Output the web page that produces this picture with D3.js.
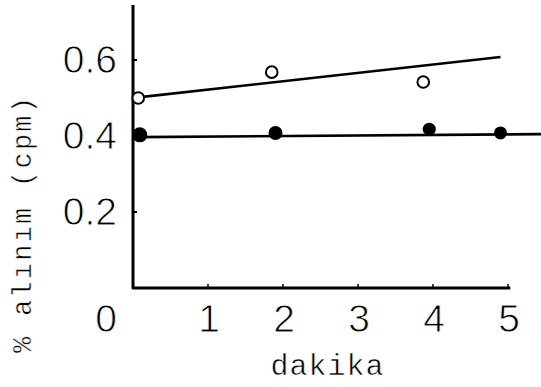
<!DOCTYPE html>
<html>
<head>
<meta charset="utf-8">
<script src="https://cdn.jsdelivr.net/npm/d3@7"></script>
<style>
  body { margin: 0; background: #fff; }
  svg { display: block; }
  .num { font-family: "Liberation Sans", Arial, sans-serif; font-size: 39px; fill: #000; stroke: #fff; stroke-width: 0.9px; }
  .lab { font-family: "Liberation Mono", "Courier New", monospace; fill: #000; stroke: #fff; stroke-width: 0.5px; }
</style>
</head>
<body>
<svg id="chart" width="541" height="387"></svg>
<script>
// measured values (minutes vs fraction of uptake)
var openX = [0.07, 1.85, 3.87];
var openY = [0.50, 0.568, 0.542];
var filledX = [0.09, 1.9, 3.95, 4.9];
var filledY = [0.403, 0.408, 0.418, 0.408];
var filledR = [7.5, 7, 6.5, 6.5];
// fitted lines, end points
var fitOpen = [[0.13, 0.503], [4.9, 0.608]];
var fitFilled = [[0.05, 0.397], [5.45, 0.405]];
var xTicks = [1, 2, 3, 4, 5];
var yTicks = [0.2, 0.4, 0.6];

function drawChart() {
  var svg = d3.select("#chart");

  var x = d3.scaleLinear().domain([0, 5]).range([133, 508]);
  var y = d3.scaleLinear().domain([0, 0.6]).range([288, 60]);

  // axes frame
  svg.append("path")
      .attr("d", "M" + x(0) + "," + y(0.745) + "V" + y(0) + "H" + x(5.03))
      .style("fill", "none")
      .style("stroke", "#000")
      .style("stroke-width", "3px")
      .style("stroke-linejoin", "round");

  // small ticks
  svg.selectAll(".yt").data(yTicks).enter().append("line")
      .attr("x1", x(0)).attr("x2", x(0) + 4)
      .attr("y1", function(d) { return y(d); })
      .attr("y2", function(d) { return y(d); })
      .style("stroke", "#000").style("stroke-width", "2px");
  svg.selectAll(".xt").data(xTicks).enter().append("line")
      .attr("x1", function(d) { return x(d); })
      .attr("x2", function(d) { return x(d); })
      .attr("y1", y(0)).attr("y2", y(0) - 4)
      .style("stroke", "#000").style("stroke-width", "1.5px");

  // tick labels
  svg.selectAll(".ylab").data(yTicks).enter().append("text")
      .attr("class", "num")
      .attr("x", x(0) - 16)
      .attr("y", function(d) { return y(d) + 13; })
      .attr("text-anchor", "end")
      .text(function(d) { return d3.format(".1f")(d); });
  svg.selectAll(".xlab").data(xTicks).enter().append("text")
      .attr("class", "num")
      .attr("x", function(d) { return x(d) + 1; })
      .attr("y", y(0) + 44)
      .attr("text-anchor", "middle")
      .text(function(d) { return d; });
  svg.append("text")
      .attr("class", "num")
      .attr("x", x(0) - 27)
      .attr("y", y(0) + 44)
      .attr("text-anchor", "middle")
      .text("0");

  // axis titles
  svg.append("text")
      .attr("class", "lab")
      .attr("x", 327).attr("y", 375)
      .attr("text-anchor", "middle")
      .style("font-size", "30px")
      .attr("textLength", 113)
      .text("dakika");
  svg.append("text")
      .attr("class", "lab")
      .attr("transform", "translate(31,225) rotate(-90)")
      .attr("text-anchor", "middle")
      .style("font-size", "27px")
      .attr("textLength", 256)
      .text("% alınım  (cpm)");

  // fitted lines
  var line = d3.line()
      .x(function(d) { return x(d[0]); })
      .y(function(d) { return y(d[1]); });
  [fitOpen, fitFilled].forEach(function(pts) {
    svg.append("path")
        .attr("d", line(pts))
        .style("fill", "none")
        .style("stroke", "#000")
        .style("stroke-width", "2.6px");
  });

  // points
  svg.selectAll(".open").data(openX).enter().append("circle")
      .attr("cx", function(d) { return x(d); })
      .attr("cy", function(d, i) { return y(openY[i]); })
      .attr("r", 5.8)
      .style("fill", "#fff")
      .style("stroke", "#000")
      .style("stroke-width", "2px");
  svg.selectAll(".filled").data(filledX).enter().append("circle")
      .attr("cx", function(d) { return x(d); })
      .attr("cy", function(d, i) { return y(filledY[i]); })
      .attr("r", function(d, i) { return filledR[i]; })
      .style("fill", "#000");
}

drawChart();
</script>
</body>
</html>
